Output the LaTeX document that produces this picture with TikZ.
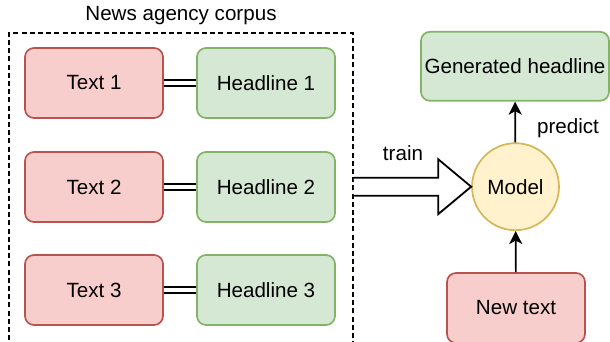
\documentclass[tikz,border=0pt]{standalone}
\usepackage{fontspec}
\setmainfont{Liberation Sans}
\usetikzlibrary{arrows.meta,calc}
\definecolor{redfill}{HTML}{F8CECC}
\definecolor{redline}{HTML}{B85450}
\definecolor{greenfill}{HTML}{D5E8D4}
\definecolor{greenline}{HTML}{82B366}
\definecolor{yellowfill}{HTML}{FFF2CC}
\definecolor{yellowline}{HTML}{D6B656}
\tikzset{
  box/.style={rectangle, rounded corners=9pt, line width=1.7pt,
    minimum width=138pt, minimum height=70pt, inner sep=0pt,
    font=\fontsize{20.6}{24}\selectfont},
  textbox/.style={box, draw=redline, fill=redfill},
  headbox/.style={box, draw=greenline, fill=greenfill},
  pairlink/.style={double, double distance=4.8pt, line width=1.8pt},
  flow/.style={line width=1.7pt, -{Stealth[length=13pt,width=13pt,inset=3.5pt]}},
  lbl/.style={font=\fontsize{20.6}{24}\selectfont, inner sep=0pt},
}
\begin{document}
\begin{tikzpicture}[x=1pt,y=-1pt]
\useasboundingbox (0,0) rectangle (610,341);

% corpus frame and its title
\node[draw, dash pattern=on 5pt off 3.2pt, line width=1.8pt,
  minimum width=344pt, minimum height=330pt, inner sep=0pt,
  anchor=north west] (corpus) at (8,32) {};
\node[lbl] (corpustitle) at (181,16) {News agency corpus};

% text / headline pairs
\node[textbox] (t1) at (94,83) {Text 1};
\node[headbox] (h1) at (266,83) {Headline 1};
\node[textbox] (t2) at (94,187) {Text 2};
\node[headbox] (h2) at (266,187) {Headline 2};
\node[textbox] (t3) at (94,290) {Text 3};
\node[headbox] (h3) at (266,290) {Headline 3};
\draw[pairlink] (t1) -- (h1);
\draw[pairlink] (t2) -- (h2);
\draw[pairlink] (t3) -- (h3);

% model and its inputs / outputs
\node[circle, draw=yellowline, fill=yellowfill, line width=1.7pt,
  minimum size=87pt, inner sep=0pt, font=\fontsize{20.6}{24}\selectfont]
  (model) at (515.5,186.7) {Model};
\node[headbox, minimum width=188pt, minimum height=69pt]
  (gen) at (515,66.3) {Generated headline};
\node[textbox, minimum width=138pt] (new) at (516,308) {New text};

\draw[flow] (new) -- (model);
\draw[flow] (model) -- (gen);

% wide training arrow from the corpus to the model
\coordinate (tip) at (model.west);
\draw[line width=1.8pt, fill=white, line join=miter]
  (corpus.east |- tip) ++(0,-9) -- ($(tip)+(-33,-9)$) -- ($(tip)+(-33,-27.5)$)
  -- (tip) -- ($(tip)+(-33,27.5)$) -- ($(tip)+(-33,9)$)
  -- ($(corpus.east |- tip)+(0,9)$);

\node[lbl] (trainlbl) at (403,153) {train};
\node[lbl] (predictlbl) at (568,128) {predict};
\end{tikzpicture}
\end{document}
